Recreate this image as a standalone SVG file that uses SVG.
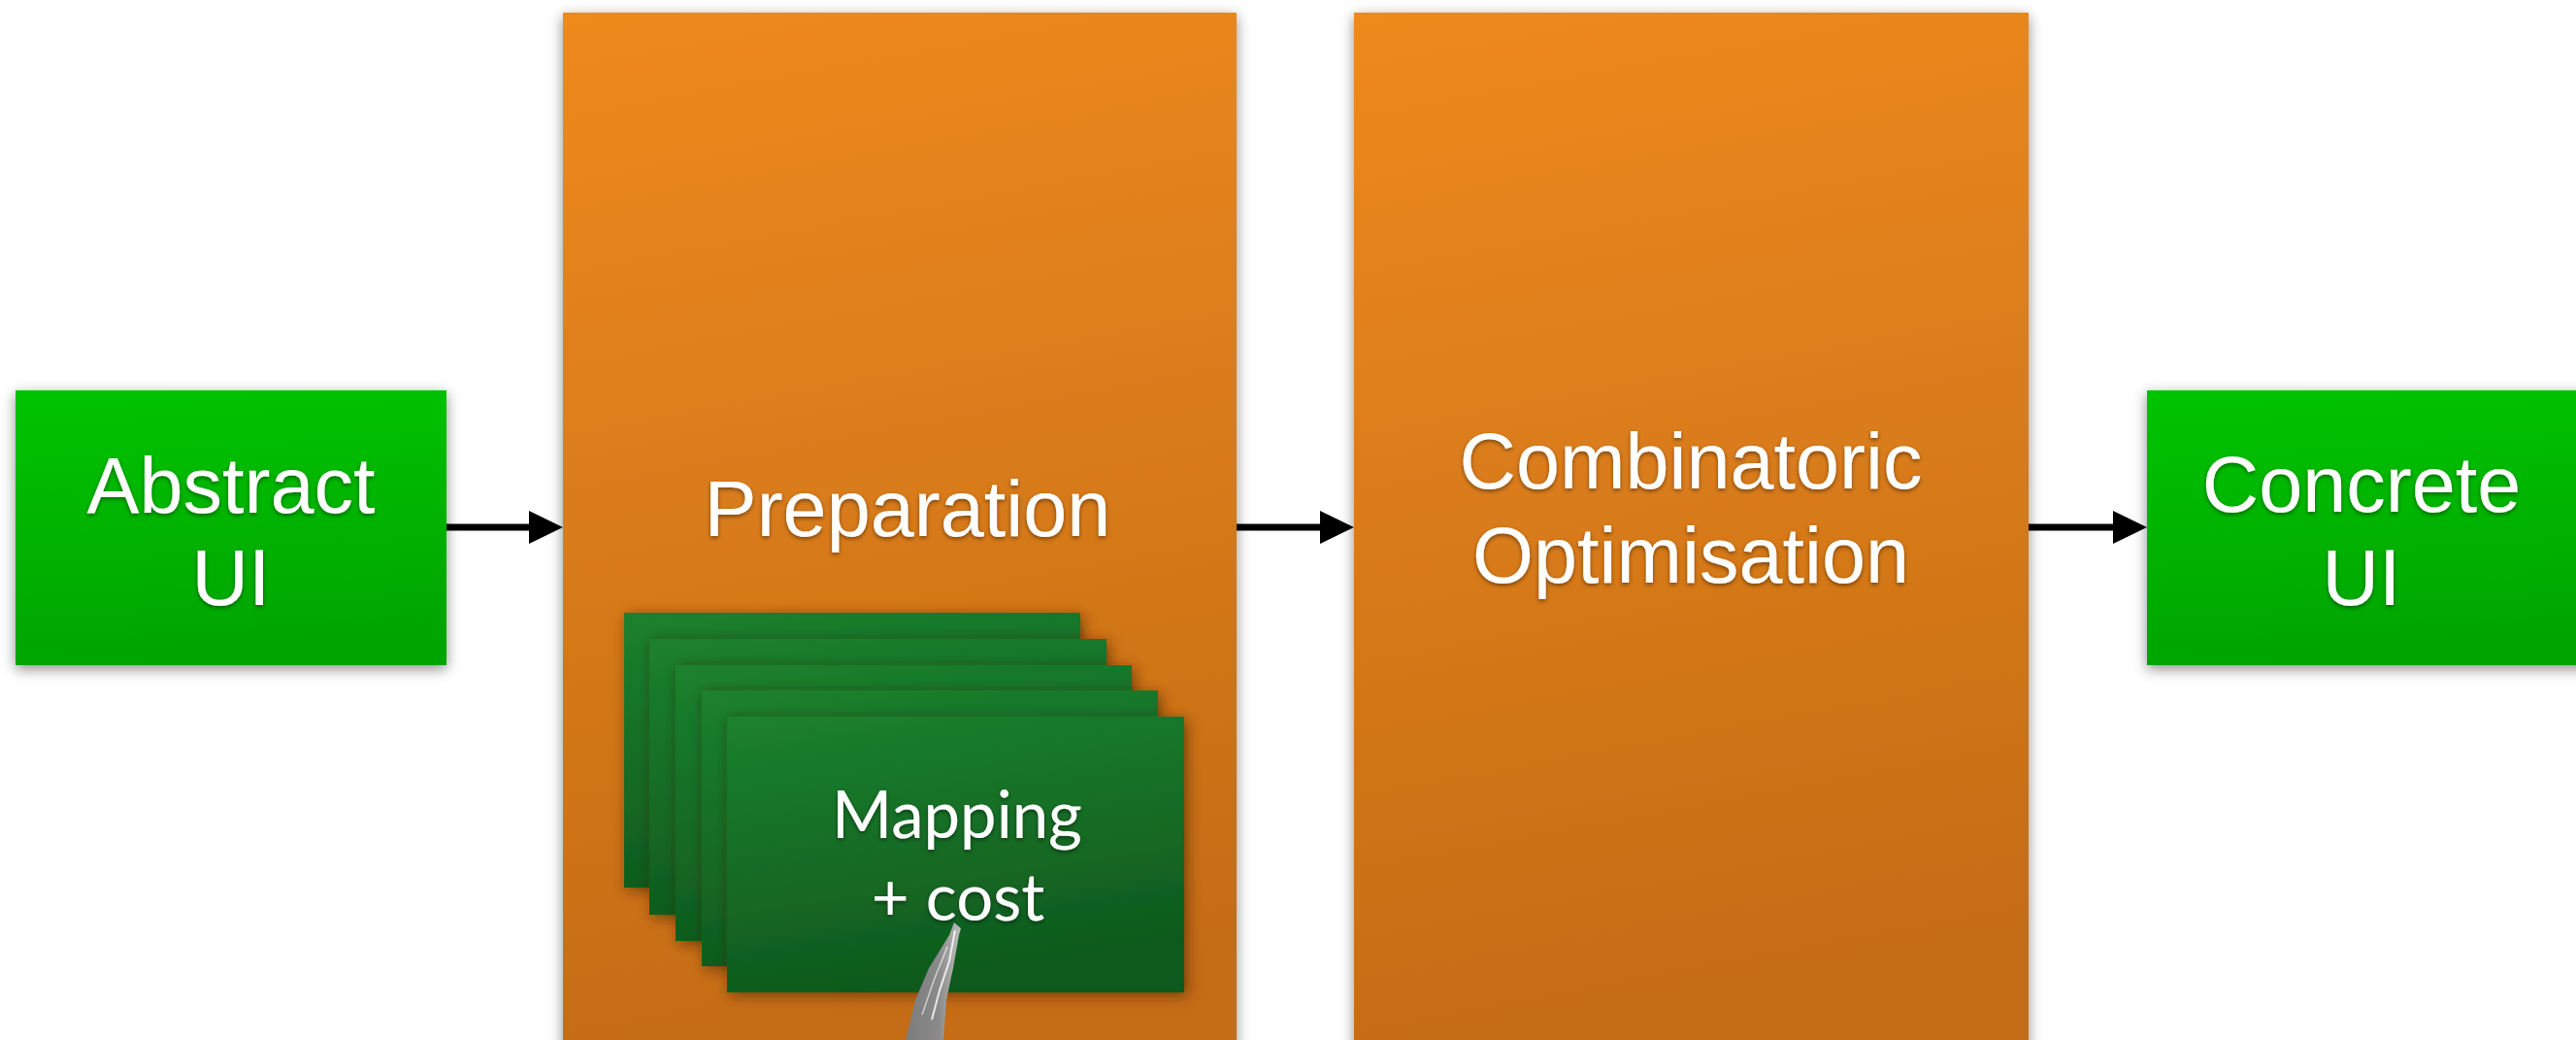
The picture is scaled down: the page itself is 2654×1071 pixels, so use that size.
<svg xmlns="http://www.w3.org/2000/svg" width="2654" height="1071" viewBox="0 0 2654 1071">
<style>
.lbl{font-family:"Liberation Sans",Arial,sans-serif;font-size:81px;fill:#ffffff;text-anchor:middle;filter:url(#ts)}
.card-lbl{font-family:Lato,"Open Sans",sans-serif;font-size:67px;fill:#ffffff;text-anchor:middle;filter:url(#ts)}
.conn{stroke:#000;stroke-width:7;fill:none}
</style>
<defs>
<linearGradient id="gGreen" x1="0" y1="0" x2="0.1" y2="1">
<stop offset="0" stop-color="#00c400"/>
<stop offset="1" stop-color="#00a400"/>
</linearGradient>
<linearGradient id="gOrange" x1="0" y1="0" x2="0.12" y2="1">
<stop offset="0" stop-color="#ee8a1f"/>
<stop offset="1" stop-color="#c46c15"/>
</linearGradient>
<linearGradient id="gCard" x1="0" y1="0" x2="0.25" y2="1">
<stop offset="0" stop-color="#1b812e"/>
<stop offset="1" stop-color="#0f5a1d"/>
</linearGradient>
<linearGradient id="gSpike" x1="0" y1="0" x2="1" y2="0">
<stop offset="0" stop-color="#7c7c7c"/>
<stop offset="0.6" stop-color="#8a8a8a"/>
<stop offset="1" stop-color="#bdbdbd"/>
</linearGradient>
<filter id="sh" x="-10%" y="-10%" width="120%" height="120%">
<feDropShadow dx="0" dy="4" stdDeviation="7" flood-color="#000" flood-opacity="0.45"/>
</filter>
<filter id="csh" x="-10%" y="-10%" width="125%" height="125%">
<feDropShadow dx="3" dy="3" stdDeviation="7" flood-color="#3a1c00" flood-opacity="0.6"/>
</filter>
<filter id="ts" x="-10%" y="-20%" width="120%" height="150%">
<feDropShadow dx="0" dy="2" stdDeviation="2" flood-color="#000" flood-opacity="0.45"/>
</filter>
<marker id="arr" markerUnits="userSpaceOnUse" markerWidth="36" markerHeight="34" refX="5" refY="17" orient="auto">
<path d="M0,0 L35,17 L0,34 Z" fill="#000"/>
</marker>
</defs>
<rect width="2654" height="1071" fill="#ffffff"/>

<g id="abstract-ui">
<rect x="16" y="402" width="444" height="283" fill="url(#gGreen)" filter="url(#sh)"/>
<text class="lbl" x="238" y="528">Abstract</text>
<text class="lbl" x="238" y="623">UI</text>
</g>

<g id="preparation">
<rect x="580" y="13" width="694" height="1080" fill="url(#gOrange)" filter="url(#sh)"/>
<text class="lbl" x="935" y="552">Preparation</text>
<g id="mapping-cards">
<rect x="643" y="631" width="470" height="283" fill="url(#gCard)" filter="url(#csh)"/>
<rect x="669" y="658" width="471" height="284" fill="url(#gCard)" filter="url(#csh)"/>
<rect x="696" y="685" width="470" height="284" fill="url(#gCard)" filter="url(#csh)"/>
<rect x="723" y="711" width="470" height="284" fill="url(#gCard)" filter="url(#csh)"/>
<rect x="749" y="738" width="471" height="284" fill="url(#gCard)" filter="url(#csh)"/>
<text class="card-lbl" x="986" y="863">Mapping</text>
<text class="card-lbl" x="987" y="948">+ cost</text>
</g>
<g id="pen-stroke">
<path d="M983,950 L990,956 L988,963 L982,997 L975,1030 L972,1071 L933,1071 L943,1030 L957,997 L978,963 Z" fill="url(#gSpike)"/>
<path d="M984,958 L978,990 L968,1020 L960,1050" stroke="#ffffff" stroke-width="2" fill="none" opacity="0.8"/>
<path d="M976,975 L962,1010 L950,1045" stroke="#ffffff" stroke-width="1.5" fill="none" opacity="0.6"/>
</g>
</g>

<g id="combinatoric-optimisation">
<rect x="1395" y="13" width="695" height="1080" fill="url(#gOrange)" filter="url(#sh)"/>
<text class="lbl" x="1742" y="503">Combinatoric</text>
<text class="lbl" x="1742" y="600">Optimisation</text>
</g>

<g id="concrete-ui">
<rect x="2212" y="402" width="460" height="283" fill="url(#gGreen)" filter="url(#sh)"/>
<text class="lbl" x="2433" y="527">Concrete</text>
<text class="lbl" x="2433" y="623">UI</text>
</g>

<g id="connectors">
<line class="conn" x1="460" y1="543" x2="550" y2="543" marker-end="url(#arr)"/>
<line class="conn" x1="1274" y1="543" x2="1365" y2="543" marker-end="url(#arr)"/>
<line class="conn" x1="2090" y1="543" x2="2182" y2="543" marker-end="url(#arr)"/>
</g>
</svg>
